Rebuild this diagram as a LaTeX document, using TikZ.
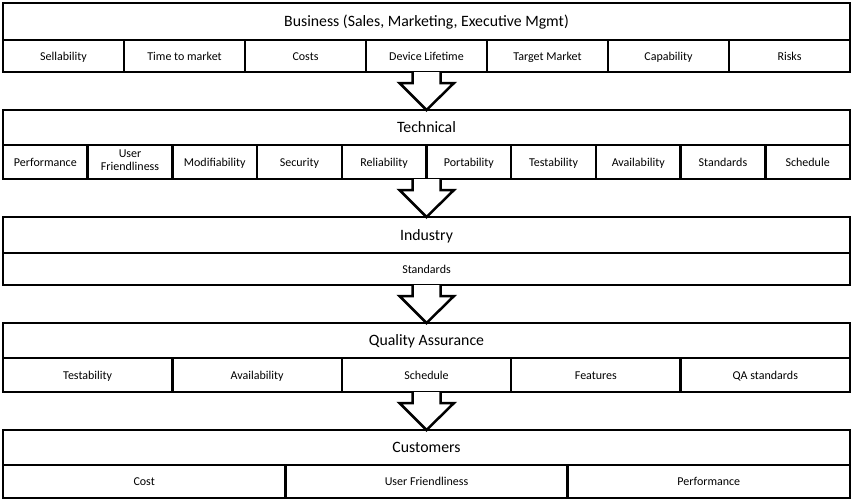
\documentclass[tikz,border=0pt]{standalone}
\usepackage{fontspec}
\setmainfont{Carlito}
\usetikzlibrary{calc}
\newcommand\cellstrut{\rule[-4pt]{0pt}{16pt}}
\newcommand\titlestrut{\rule[-5pt]{0pt}{20pt}}
\tikzset{
  frame/.style={draw, line width=2.5pt, inner sep=0pt, outer sep=0pt, minimum width=847pt},
  titlebox/.style={draw, line width=2.5pt, inner sep=0pt, outer sep=0pt, minimum width=847pt, font=\fontsize{15.8}{17}\selectfont, execute at begin node=\titlestrut},
  cell/.style={draw, line width=2.5pt, inner sep=0pt, outer sep=0pt, align=center, font=\fontsize{12}{12.5}\selectfont, execute at begin node=\cellstrut},
  blockarrow/.style={draw, line width=2.5pt, fill=white, line join=miter},
}
\newcommand\blockarr[2]{%
  \draw[blockarrow] ($(#1.south)+(-14pt,0)$) -- ++(0,-11pt) -- ++(-13pt,0)
     -- ($(#2.north)+(0,0)$) -- ($(#1.south)+(27.5pt,-11pt)$) -- ++(-13.5pt,0) -- ($(#1.south)+(14pt,0)$);}
\begin{document}
\begin{tikzpicture}[x=1pt,y=-1pt]
\useasboundingbox (0,0) rectangle (853,501);
% Box 1
\node[frame, minimum height=69pt] (B1) at (426.5,37.5) {};
\node[titlebox, minimum height=37pt] (T1) at (426.5,21.5) {Business (Sales, Marketing, Executive Mgmt)};
\foreach \t [count=\i from 0] in {Sellability,Time to market,Costs,Device Lifetime,Target Market,Capability,Risks}
  \node[cell, minimum width=121pt, minimum height=32pt] (C1-\i) at (63.5+121*\i,56) {\t};
% Box 2
\node[frame, minimum height=69pt] (B2) at (426.5,144.5) {};
\node[titlebox, minimum height=35pt] (T2) at (426.5,127.5) {Technical};
\foreach \t [count=\i from 0] in {Performance,{User\\Friendliness\rule[-4pt]{0pt}{4pt}},Modifiability,Security,Reliability,Portability,Testability,Availability,Standards,Schedule}
  \node[cell, minimum width=84.7pt, minimum height=34pt] (C2-\i) at (45.35+84.7*\i,162) {\t};
% Box 3
\node[frame, minimum height=68pt] (B3) at (426.5,251) {};
\node[titlebox, minimum height=36pt] (T3) at (426.5,235) {Industry};
\node[cell, minimum width=847pt, minimum height=32pt] (C3-0) at (426.5,269) {Standards};
% Box 4
\node[frame, minimum height=69pt] (B4) at (426.5,357.5) {};
\node[titlebox, minimum height=35pt] (T4) at (426.5,340.5) {Quality Assurance};
\foreach \t [count=\i from 0] in {Testability,Availability,Schedule,Features,QA standards}
  \node[cell, minimum width=169.4pt, minimum height=34pt] (C4-\i) at (87.7+169.4*\i,375) {\t};
% Box 5
\node[frame, minimum height=68pt] (B5) at (426.5,464) {};
\node[titlebox, minimum height=35pt] (T5) at (426.5,447.5) {Customers};
\foreach \t [count=\i from 0] in {Cost,User Friendliness,Performance}
  \node[cell, minimum width=282.33pt, minimum height=33pt] (C5-\i) at (144.17+282.33*\i,481.5) {\t};
% arrows
\blockarr{B1}{B2}
\blockarr{B2}{B3}
\blockarr{B3}{B4}
\blockarr{B4}{B5}
\end{tikzpicture}
\end{document}
